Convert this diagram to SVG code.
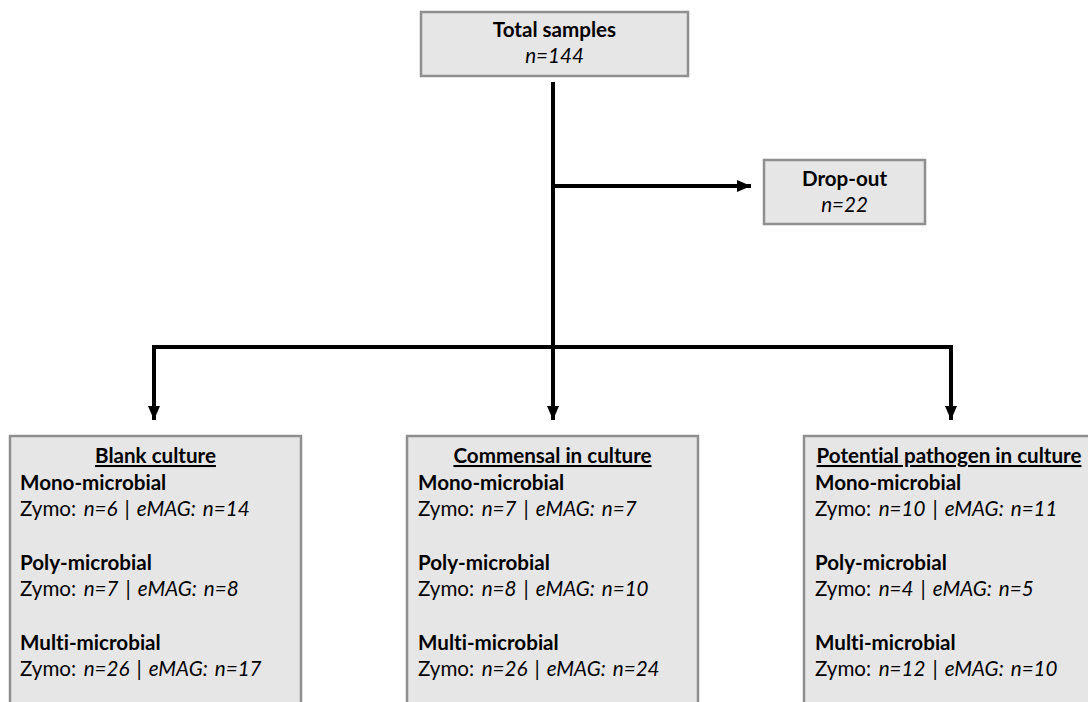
<svg xmlns="http://www.w3.org/2000/svg" width="1088" height="702" viewBox="0 0 1088 702">
<style>
.box{fill:#e6e6e6;stroke:#8f8f8f;stroke-width:2.5}
text{font-family:Lato,"Open Sans","Liberation Sans",sans-serif;font-size:20.6px;fill:#000;font-variant-ligatures:none}
.b{font-weight:bold}
.i{font-style:italic}
.c{text-anchor:middle}
.u{text-decoration:underline}
.z{word-spacing:2.2px}
.ln{stroke:#000;stroke-width:4;fill:none}
</style>
<defs>
<marker id="ah" markerUnits="userSpaceOnUse" markerWidth="14" markerHeight="14" viewBox="0 0 14 14" refX="14" refY="7" orient="auto">
<path d="M0,1 L14,7 L0,13 Z" fill="#000"/>
</marker>
</defs>
<g id="connectors">
<path class="ln" d="M553,82 V347"/>
<path class="ln" d="M553,186 H751" marker-end="url(#ah)"/>
<path class="ln" d="M154,349 V347 H951 V349"/>
<path class="ln" d="M154,347 V420" marker-end="url(#ah)"/>
<path class="ln" d="M553,347 V420" marker-end="url(#ah)"/>
<path class="ln" d="M951,347 V420" marker-end="url(#ah)"/>
</g>
<g id="total">
<rect class="box" x="421" y="12" width="267" height="64"/>
<text class="b c" x="554.5" y="37">Total samples</text>
<text class="i c" x="554.5" y="63">n=144</text>
</g>
<g id="dropout">
<rect class="box" x="764" y="160" width="161" height="64"/>
<text class="b c" x="844.5" y="186">Drop-out</text>
<text class="i c" x="844.5" y="212">n=22</text>
</g>
<g id="blank">
<rect class="box" x="10" y="436" width="291" height="280"/>
<text class="b c u" x="155.5" y="463">Blank culture</text>
<text class="b" x="20" y="489.7">Mono-microbial</text>
<text class="z" x="20" y="516.3">Zymo: <tspan class="i">n=6 | eMAG: n=14</tspan></text>
<text class="b" x="20" y="569.7">Poly-microbial</text>
<text class="z" x="20" y="596.3">Zymo: <tspan class="i">n=7 | eMAG: n=8</tspan></text>
<text class="b" x="20" y="649.7">Multi-microbial</text>
<text class="z" x="20" y="676.3">Zymo: <tspan class="i">n=26 | eMAG: n=17</tspan></text>
</g>
<g id="commensal">
<rect class="box" x="407" y="436" width="291" height="280"/>
<text class="b c u" x="552.5" y="463">Commensal in culture</text>
<text class="b" x="418" y="489.7">Mono-microbial</text>
<text class="z" x="418" y="516.3">Zymo: <tspan class="i">n=7 | eMAG: n=7</tspan></text>
<text class="b" x="418" y="569.7">Poly-microbial</text>
<text class="z" x="418" y="596.3">Zymo: <tspan class="i">n=8 | eMAG: n=10</tspan></text>
<text class="b" x="418" y="649.7">Multi-microbial</text>
<text class="z" x="418" y="676.3">Zymo: <tspan class="i">n=26 | eMAG: n=24</tspan></text>
</g>
<g id="pathogen">
<rect class="box" x="804" y="436" width="291" height="280"/>
<text class="b c u" x="949" y="463">Potential pathogen in culture</text>
<text class="b" x="815" y="489.7">Mono-microbial</text>
<text class="z" x="815" y="516.3">Zymo: <tspan class="i">n=10 | eMAG: n=11</tspan></text>
<text class="b" x="815" y="569.7">Poly-microbial</text>
<text class="z" x="815" y="596.3">Zymo: <tspan class="i">n=4 | eMAG: n=5</tspan></text>
<text class="b" x="815" y="649.7">Multi-microbial</text>
<text class="z" x="815" y="676.3">Zymo: <tspan class="i">n=12 | eMAG: n=10</tspan></text>
</g>
</svg>
